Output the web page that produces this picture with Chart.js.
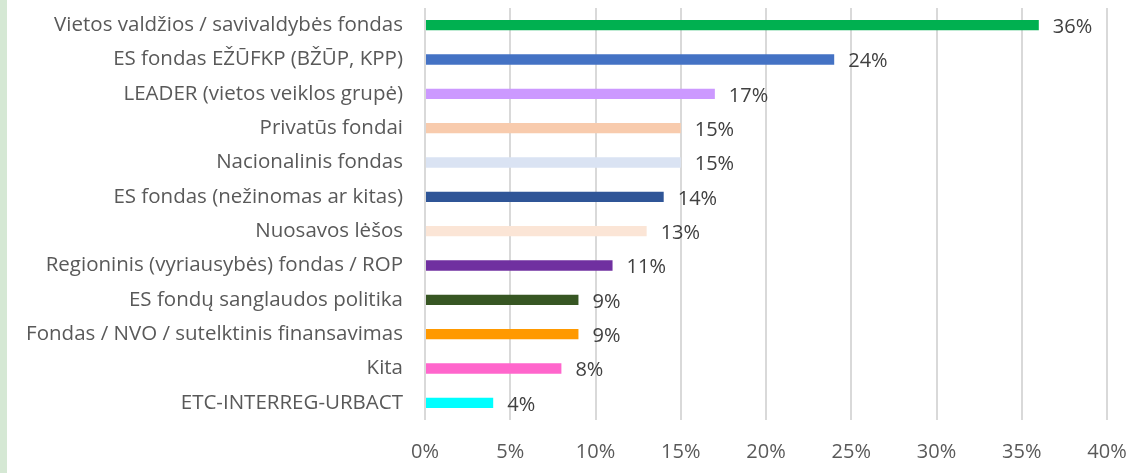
<!DOCTYPE html>
<html>
<head>
<meta charset="utf-8">
<script src="https://cdn.jsdelivr.net/npm/chart.js@4"></script>
<style>
  html, body { margin: 0; padding: 0; background: #ffffff; }
  #wrap { position: relative; width: 1142px; height: 473px; }
  #strip { position: absolute; left: 0; top: 0; width: 7px; height: 473px; background: #d5e8d4; }
  canvas { position: absolute; left: 0; top: 0; }
</style>
</head>
<body>
<div id="wrap">
  <canvas id="barChart" width="1142" height="473"></canvas>
  <div id="strip"></div>
</div>
<script>
// Categories and values (percent)
const categories = [
  "Vietos valdžios / savivaldybės fondas",
  "ES fondas EŽŪFKP (BŽŪP, KPP)",
  "LEADER (vietos veiklos grupė)",
  "Privatūs fondai",
  "Nacionalinis fondas",
  "ES fondas (nežinomas ar kitas)",
  "Nuosavos lėšos",
  "Regioninis (vyriausybės) fondas / ROP",
  "ES fondų sanglaudos politika",
  "Fondas / NVO / sutelktinis finansavimas",
  "Kita",
  "ETC-INTERREG-URBACT"
];
const shares = [36, 24, 17, 15, 15, 14, 13, 11, 9, 9, 8, 4];
const barColors = [
  "#00b050", "#4472c4", "#cc99ff", "#f8cbad", "#dae3f3", "#2f5597",
  "#fbe5d6", "#7030a0", "#375623", "#ff9900", "#ff66cc", "#00ffff"
];
const xTicks = [0, 5, 10, 15, 20, 25, 30, 35, 40];

const fontFamily = "'Open Sans', 'Noto Sans', sans-serif";

// Draw the value labels at the end of each bar
const valueLabels = {
  id: "valueLabels",
  afterDatasetsDraw(chart) {
    const ctx = chart.ctx;
    const meta = chart.getDatasetMeta(0);
    ctx.save();
    ctx.font = "20px " + fontFamily;
    ctx.fillStyle = "#404040";
    ctx.textAlign = "left";
    ctx.textBaseline = "middle";
    meta.data.forEach((bar, i) => {
      ctx.fillText(shares[i] + "%", bar.x + 14, bar.y + 2);
    });
    ctx.restore();
  }
};

new Chart(document.getElementById("barChart").getContext("2d"), {
  type: "bar",
  data: {
    labels: categories,
    datasets: [{
      data: shares,
      backgroundColor: barColors,
      barPercentage: 0.3,
      categoryPercentage: 1.0
    }]
  },
  options: {
    indexAxis: "y",
    responsive: false,
    animation: false,
    layout: { padding: { top: 8, right: 35, bottom: 0, left: 0 } },
    plugins: {
      legend: { display: false },
      tooltip: { enabled: false }
    },
    scales: {
      x: {
        min: 0,
        max: 40,
        afterBuildTicks(scale) {
          scale.ticks = xTicks.map(v => ({ value: v }));
        },
        afterFit(scale) {
          scale.height = 53;
          scale.paddingLeft = 0;
          scale.paddingRight = 0;
        },
        grid: { color: "#d9d9d9", lineWidth: 2, drawTicks: false },
        border: { display: false },
        ticks: {
          padding: 20,
          maxRotation: 0,
          color: "#595959",
          font: { family: fontFamily, size: 20 },
          callback: v => v + "%"
        }
      },
      y: {
        afterFit(scale) {
          scale.width = 425;
          scale.paddingTop = 0;
          scale.paddingBottom = 0;
        },
        grid: { display: false, drawTicks: false },
        border: { display: false },
        ticks: {
          padding: 22,
          color: "#595959",
          font: { family: fontFamily, size: 20.5 }
        }
      }
    }
  },
  plugins: [valueLabels]
});
</script>
</body>
</html>
